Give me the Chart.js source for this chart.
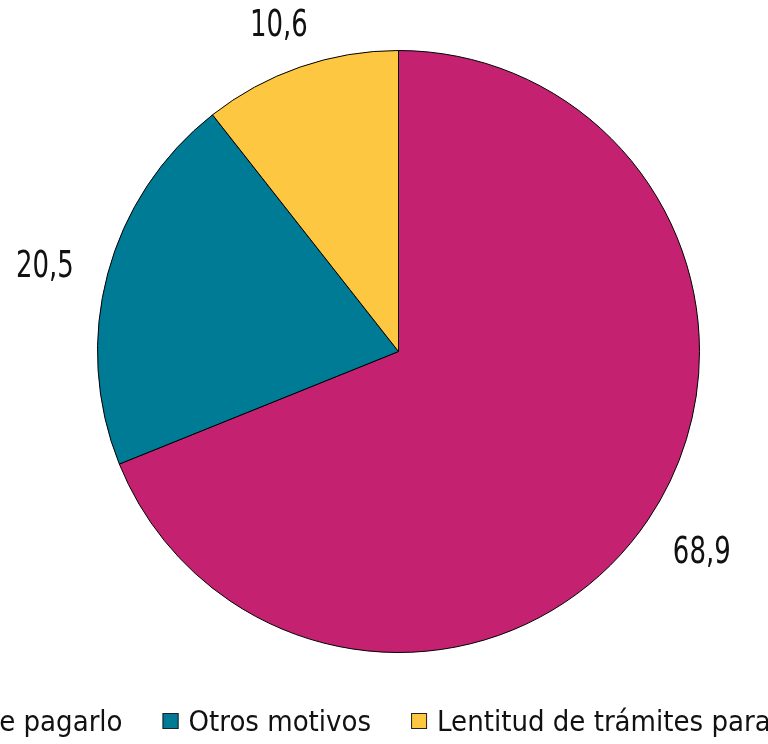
<!DOCTYPE html>
<html>
<head>
<meta charset="utf-8">
<script src="https://cdn.jsdelivr.net/npm/chart.js@4/dist/chart.umd.min.js"></script>
<style>
  html, body { margin: 0; padding: 0; background: #fff; }
  #wrap { width: 768px; height: 744px; }
</style>
</head>
<body>
<div id="wrap"><canvas id="pie"></canvas></div>
<script>
// Data
const categories = [
    'No puede pagarlo',
    'Otros motivos',
    'Lentitud de trámites para obtenerlo'
];
const values = [68.9, 20.5, 10.6];
const colors = ['#C42271', '#007B96', '#FDC741'];

const numberFont = "37px 'DejaVu Sans Condensed', sans-serif";
const numberSqueeze = 0.78; // the original uses a narrow DIN-like face
const legendFont = "29px 'DejaVu Sans Condensed', sans-serif";

// Value labels outside each slice
const outsideLabels = {
    id: 'outsideLabels',
    afterDatasetsDraw(chart) {
        const ctx = chart.ctx;
        const arcs = chart.getDatasetMeta(0).data;
        ctx.save();
        ctx.font = numberFont;
        ctx.fillStyle = '#111';
        ctx.textAlign = 'center';
        ctx.textBaseline = 'middle';
        arcs.forEach((arc, i) => {
            const mid = (arc.startAngle + arc.endAngle) / 2;
            const dx = Math.cos(mid), dy = Math.sin(mid);
            const text = values[i].toFixed(1).replace('.', ',');
            const w = ctx.measureText(text).width * numberSqueeze;
            const h = 27;
            const R = arc.outerRadius + 36;
            const cx = arc.x + dx * R + dx * w / 2;
            const cy = arc.y + dy * R + dy * h / 2;
            ctx.save();
            ctx.translate(cx, cy + 6);
            ctx.scale(numberSqueeze, 1);
            ctx.fillText(text, 0, 0);
            ctx.restore();
        });
        ctx.restore();
    }
};

// Single-row legend centred under the pie (allowed to overflow the canvas)
const rowLegend = {
    id: 'rowLegend',
    afterDraw(chart) {
        const ctx = chart.ctx;
        const box = 16, boxGap = 10, itemGap = 40;
        ctx.save();
        ctx.font = legendFont;
        const widths = categories.map(c => box + boxGap + ctx.measureText(c).width);
        const total = widths.reduce((a, b) => a + b, 0) + itemGap * (categories.length - 1);
        let x = chart.width / 2 - total / 2;
        const y = 723;
        categories.forEach((c, i) => {
            ctx.fillStyle = colors[i];
            ctx.fillRect(x, y - 10, box, box);
            ctx.strokeStyle = '#222';
            ctx.lineWidth = 1;
            ctx.strokeRect(x + 0.5, y - 9.5, box - 1, box - 1);
            ctx.fillStyle = '#111';
            ctx.textAlign = 'left';
            ctx.textBaseline = 'middle';
            ctx.fillText(c, x + box + boxGap, y);
            x += widths[i] + itemGap;
        });
        ctx.restore();
    }
};

new Chart(document.getElementById('pie'), {
    type: 'pie',
    data: {
        labels: categories,
        datasets: [{
            data: values,
            backgroundColor: colors,
            borderColor: '#000',
            borderWidth: 1
        }]
    },
    options: {
        responsive: true,
        maintainAspectRatio: false,
        animation: false,
        layout: {
            padding: { left: 97, right: 68, top: 50, bottom: 91 }
        },
        plugins: {
            legend: { display: false },
            tooltip: { enabled: false }
        }
    },
    plugins: [outsideLabels, rowLegend]
});
</script>
</body>
</html>
